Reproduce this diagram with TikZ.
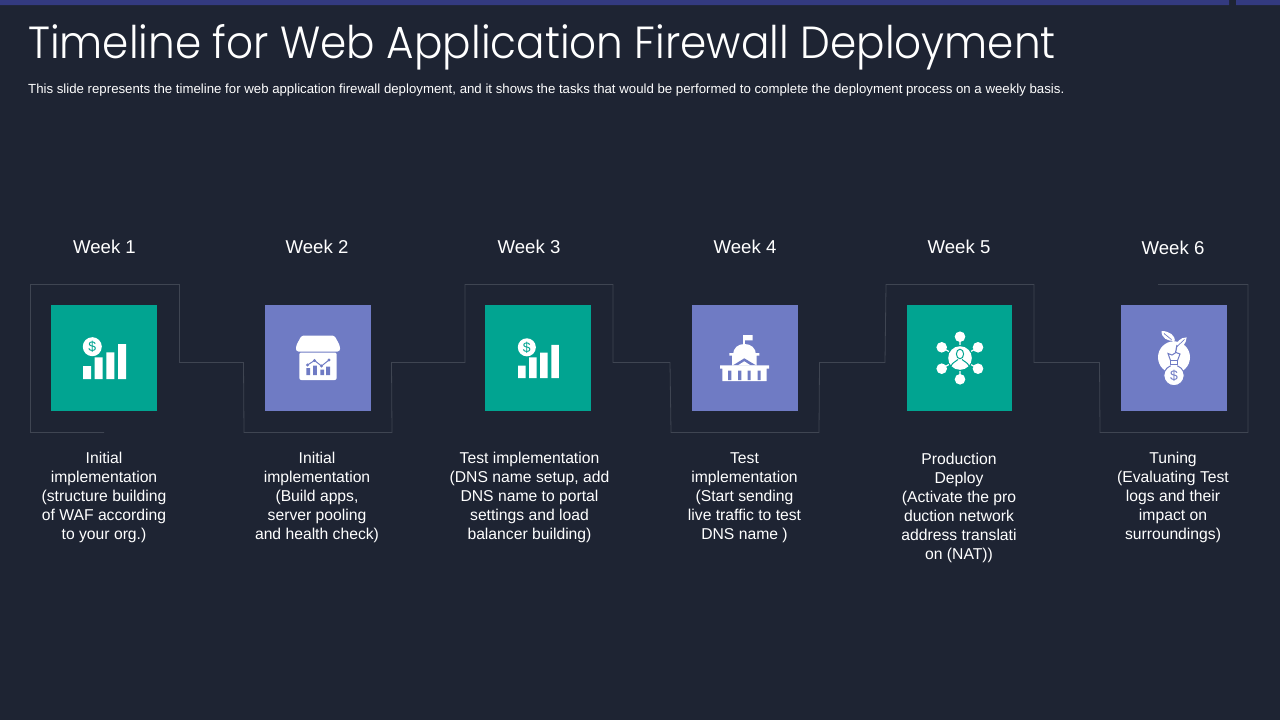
\documentclass[tikz,border=0pt]{standalone}
\usepackage{fontspec}
\setmainfont{Liberation Sans}
\newfontfamily\titlefont[FakeStretch=0.937]{Poppins Light}
\definecolor{bgc}{HTML}{1E2433}
\definecolor{barc}{HTML}{333A80}
\definecolor{linec}{HTML}{3F4552}
\definecolor{tealc}{HTML}{01A491}
\definecolor{purpc}{HTML}{6F7BC4}
\tikzset{
  x=1pt,y=-1pt,
  iconbox/.style={draw=none,minimum width=106pt,minimum height=106pt,inner sep=0pt,anchor=north west},
  week/.style={text=white,font=\fontsize{18.6}{22}\selectfont,inner sep=0pt,anchor=center},
  desc/.style={text=white,font=\fontsize{15.7}{19}\selectfont,align=center,inner sep=0pt,anchor=north},
  zig/.style={draw=linec,line width=0.8pt},
  dollar/.style={inner sep=0pt,font=\fontsize{14}{14}\selectfont}
}
\newcommand{\barsicon}[3]{%
 \begin{scope}[shift={(#1,#2)},scale=#3]
  \fill[white] (9.3,-32.3) circle[radius=9.5];
  \fill[white] (0,0) rectangle (8,-13) (11.7,0) rectangle (19.7,-21.7)
               (23.3,0) rectangle (31.3,-26.7) (35,0) rectangle (43,-35);
 \end{scope}}
\begin{document}
\begin{tikzpicture}
\useasboundingbox (0,0) rectangle (1280,720);
\fill[bgc] (0,0) rectangle (1280,720);
\fill[barc] (0,0) rectangle (1229,5) (1236,0) rectangle (1280,5);
\node[text=white,inner sep=0pt,anchor=base west,font=\fontsize{45}{50}\titlefont] (title) at (28,58.5) {Timeline for Web Application Firewall Deployment};
\node[text=white,inner sep=0pt,anchor=base west,font=\fontsize{13.23}{15}\selectfont] (sub) at (28,93.6) {This slide represents the timeline for web application firewall deployment, and it shows the tasks that would be performed to complete the deployment process on a weekly basis.};
% zigzag frame
\draw[zig] (104,432.5) -- (30.5,432.5) -- (30.5,284.5) -- (179.5,284.5) -- (179.5,362.5) -- (243.5,362.5) -- (244,432.5) -- (392,432.5) -- (391.5,362.5) -- (465,362.5) -- (465,284.5) -- (613,284.5) -- (613,362.5) -- (670,362.5) -- (671,432.5) -- (819,432.5) -- (819.5,362.5) -- (885,362.5) -- (886,284.5) -- (1034,284.5) -- (1034,362.5) -- (1099.5,362.5) -- (1100,432.5) -- (1248,432.5) -- (1248,284.5) -- (1158,284.5);
% boxes
\node[iconbox,fill=tealc] (b1) at (51,305) {};
\node[iconbox,fill=purpc] (b2) at (265,305) {};
\node[iconbox,fill=tealc] (b3) at (485,305) {};
\node[iconbox,fill=purpc] (b4) at (692,305) {};
\node[iconbox,fill=tealc,minimum width=105pt] (b5) at (907,305) {};
\node[iconbox,fill=purpc] (b6) at (1121,305) {};
% weeks
\node[week] (w1) at (104.5,247) {Week 1};
\node[week] (w2) at (317,247) {Week 2};
\node[week] (w3) at (529,247) {Week 3};
\node[week] (w4) at (745,247) {Week 4};
\node[week] (w5) at (959,247) {Week 5};
\node[week] (w6) at (1173,248) {Week 6};
% descriptions
\node[desc] (d1) at (104,452.3) {Initial\\implementation\\(structure building\\of WAF according\\to your org.)};
\node[desc] (d2) at (317,452.3) {Initial\\implementation\\(Build apps,\\server pooling\\and health check)};
\node[desc] (d3) at (529.5,452.3) {Test implementation\\(DNS name setup, add\\DNS name to portal\\settings and load\\balancer building)};
\node[desc] (d4) at (744.5,452.3) {Test\\implementation\\(Start sending\\live traffic to test\\DNS name )};
\node[desc] (d5) at (959,453.3) {Production\\Deploy\\(Activate the pro\\duction network\\address translati\\on (NAT))};
\node[desc] (d6) at (1173,452.3) {Tuning\\(Evaluating Test\\logs and their\\impact on\\surroundings)};
% icon 1 and 3
\barsicon{83}{379}{1}
\node[dollar,text=tealc] (c1) at (92.3,346.7) {\$};
\barsicon{518}{378}{0.95}
\node[dollar,text=tealc] (c3) at (526.8,347.3) {\$};
% icon 2 store
\fill[white,rounded corners=2.5pt] (301.5,335.5) -- (334.5,335.5) -- (340,346) -- (340,351.5) -- (296,351.5) -- (296,346) -- cycle;
\fill[white,rounded corners=2pt] (299.3,352.5) rectangle (336.7,380);
\fill[purpc] (306.3,368) rectangle (310,375) (313.1,365.5) rectangle (316.9,375) (320.3,369.7) rectangle (324,375) (326.2,366.5) rectangle (330,375);
\draw[purpc,line width=1pt] (307.5,365) -- (314.5,360.5) -- (321.5,366) -- (329,360);
\fill[purpc] (307.5,365) circle[radius=1.6] (314.5,360.5) circle[radius=1.6] (321.5,366) circle[radius=1.6] (329,360) circle[radius=1.6];
% icon 4 capitol
\fill[white] (743.2,335) rectangle (744.8,346) (744.8,335) rectangle (752.7,340.3);
\fill[white] (733,355) .. controls (733,348) and (738,344) .. (744.5,344) .. controls (751,344) and (756,348) .. (756,355) -- cycle;
\fill[white] (729.3,353) rectangle (759.3,355.5) (732,355.5) rectangle (756.5,365.5);
\fill[purpc] (744.3,358.3) -- (733,365.3) -- (756,365.3) -- cycle;
\fill[white] (744.3,361.3) -- (738,365.3) -- (750.5,365.3) -- cycle;
\fill[white] (720,365.3) rectangle (769,368.7) (722.3,368.7) rectangle (766.7,381);
\fill[purpc] (728.2,370.5) rectangle (731.4,380) (738.2,370.5) rectangle (741.4,380) (747.5,370.5) rectangle (750.7,380) (757.5,370.5) rectangle (760.7,380);
% icon 5 network
\draw[white,line width=1.2pt] (960,336.7) -- (960,379.3) (941.7,347.3) -- (978,368.7) (941.7,368.7) -- (978,347.3);
\fill[white] (960,336.7) circle[radius=5.3] (960,379.3) circle[radius=5.3] (941.7,347.3) circle[radius=5.3] (978,347.3) circle[radius=5.3] (941.7,368.7) circle[radius=5.3] (978,368.7) circle[radius=5.3];
\fill[tealc] (960,358) circle[radius=13];
\fill[white] (960,358) circle[radius=11.8];
\draw[tealc,line width=1pt] (960,354) ellipse[x radius=3.6,y radius=4.8];
\draw[tealc,line width=1pt] (951,366) .. controls (952.5,362) and (956,362) .. (958,359.5) (969,366) .. controls (967.5,362) and (964,362) .. (962,359.5);
% icon 6 bag
\fill[white] (1174,357.3) circle[radius=16];
\fill[white] (1161.5,331) .. controls (1170,331) and (1175,336) .. (1175,340.7) .. controls (1167,341.5) and (1161.5,338) .. (1161.5,331) -- cycle;
\fill[white] (1186.7,337.3) .. controls (1186,344) and (1182,349) .. (1176,348.3) .. controls (1176,342) and (1180,337.5) .. (1186.7,337.3) -- cycle;
\draw[purpc,line width=0.7pt] (1164,333.5) -- (1172,340) (1184.5,339.5) -- (1177,346.5);
\draw[white,line width=1.2pt] (1172,339) .. controls (1175,343) and (1176,347) .. (1175,349);
\draw[purpc,line width=1.2pt] (1177,345) -- (1175.5,353);
\draw[purpc,fill=white,line width=1pt] (1168,353.5) -- (1172,355) -- (1176,352.5) -- (1180,354) -- (1177.5,360.5) -- (1170.5,360.5) -- cycle;
\draw[purpc,fill=white,line width=1pt] (1174,375.5) circle[radius=10.2];
\draw[purpc,fill=white,line width=1pt] (1170.5,360.5) rectangle (1177.5,364.5);
\fill[white] (1171,365) rectangle (1177,368);
\node[dollar,text=purpc,font=\fontsize{14}{14}\selectfont] (c6) at (1174,376) {\$};
\end{tikzpicture}
\end{document}
